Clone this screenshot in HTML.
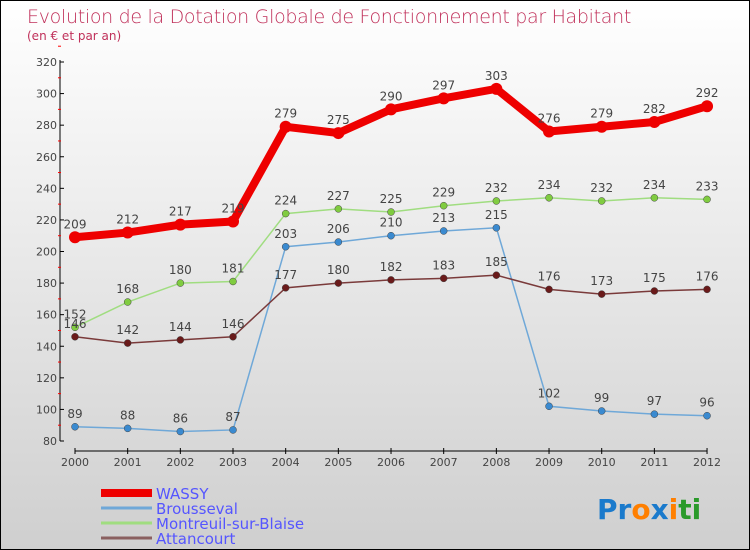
<!DOCTYPE html>
<html><head><meta charset="utf-8"><style>
body{margin:0}
#c{width:748px;height:548px;border:1px solid #000;background:linear-gradient(#fff,#f3f3f3 25%,#cfcfcf);position:relative;overflow:hidden;font-family:"DejaVu Sans","Liberation Sans",sans-serif}
</style></head><body>
<div id="c">
<svg id="s" width="748" height="548" style="position:absolute;left:0;top:0">
<text x="26" y="22" font-size="19" fill="#c0305a" font-family="DejaVu Sans,sans-serif" font-weight="200" style="letter-spacing:-0.3px">Evolution de la Dotation Globale de Fonctionnement par Habitant</text>
<text x="26" y="39" font-size="12" fill="#c0305a">(en € et par an)</text>
<g id="g"></g>
<text x="596" y="518" font-size="28" font-weight="bold"><tspan fill="#1a7acc">Pr</tspan><tspan fill="#ff7f00">o</tspan><tspan fill="#1a7acc">x</tspan><tspan fill="#ff7f00">i</tspan><tspan fill="#2a9a2a">ti</tspan></text>
</svg>
</div>
<script>
const years=[2000,2001,2002,2003,2004,2005,2006,2007,2008,2009,2010,2011,2012];
const wassy=[209,212,217,219,279,275,290,297,303,276,279,282,292];
const brousseval=[89,88,86,87,203,206,210,213,215,102,99,97,96];
const montreuil=[152,168,180,181,224,227,225,229,232,234,232,234,233];
const attancourt=[146,142,144,146,177,180,182,183,185,176,173,175,176];
const yTicks=[80,100,120,140,160,180,200,220,240,260,280,300,320];
const names=["WASSY","Brousseval","Montreuil-sur-Blaise","Attancourt"];
const NS="http://www.w3.org/2000/svg",g=document.getElementById('g');
const X=i=>74+i*52.67, Y=v=>440-(v-80)*(379/240);
function el(t,a,p){const e=document.createElementNS(NS,t);for(const k in a)e.setAttribute(k,a[k]);(p||g).appendChild(e);return e;}
let ax=el('line',{x1:59,y1:59,x2:59,y2:440,stroke:'#000','stroke-width':1});


let xa=el('line',{x1:74,y1:450,x2:706,y2:450,stroke:'#000','stroke-width':1});


yTicks.forEach(v=>{el('line',{x1:59,x2:63,y1:Y(v),y2:Y(v),stroke:'#000'});el('line',{x1:57,x2:60,y1:Y(v+10),y2:Y(v+10),stroke:'red'});
const t=el('text',{x:56,y:Y(v)+4,'font-size':11,fill:'#444','text-anchor':'end'});t.textContent=v;

});
years.forEach((y,i)=>{el('line',{x1:X(i),x2:X(i),y1:447,y2:453,stroke:'#000'});
const t=el('text',{x:X(i),y:465,'font-size':11,fill:'#444','text-anchor':'middle'});t.textContent=y;

});
function series(d,col,w,r,fill,name){
const p=el('polyline',{points:d.map((v,i)=>X(i)+','+Y(v)).join(' '),fill:'none',stroke:col,'stroke-width':w});


d.forEach((v,i)=>{const c=el('circle',{cx:X(i),cy:Y(v),r:r,fill:fill,stroke:col==='#ee0000'?'none':'#444','stroke-width':0.5});


const t=el('text',{x:X(i),y:Y(v)-9,'font-size':12,fill:'#444','text-anchor':'middle'});t.textContent=v;

});}
series(brousseval,'#6fa8d8',1.5,3.5,'#3a8ad0','brousseval');
series(montreuil,'#a0dd80',1.5,3.5,'#80cc40','montreuil');
series(attancourt,'#7a3a3a',1.5,3.5,'#6a1a1a','attancourt');
series(wassy,'#ee0000',8,6,'#ee0000','wassy');
const lc=['#ee0000','#6fa8d8','#a0dd80','#8a6060'],lw=[8,3,3,3];
names.forEach((n,i)=>{const yy=492+i*15;
const l=el('line',{x1:100,x2:151,y1:yy,y2:yy,stroke:lc[i],'stroke-width':lw[i]});


const t=el('text',{x:155,y:yy+6,'font-size':15,fill:'#5555ff'});t.textContent=n;

});
</script>
</body></html>
